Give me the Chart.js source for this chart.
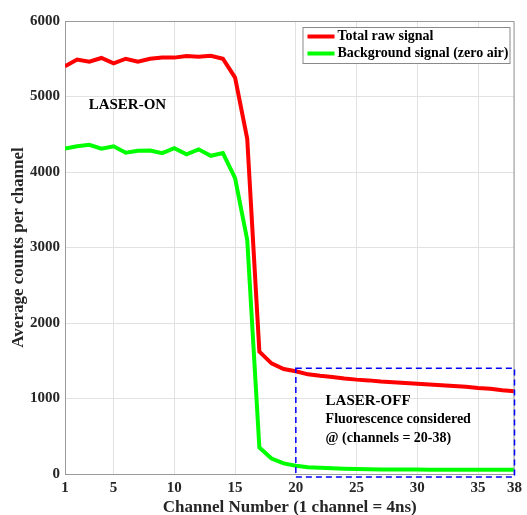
<!DOCTYPE html>
<html>
<head>
<meta charset="utf-8">
<script src="https://cdn.jsdelivr.net/npm/chart.js@4.4.1/dist/chart.umd.min.js"></script>
<style>
  html, body { margin: 0; padding: 0; background: #fff; }
  #wrap { width: 527px; height: 515px; }
</style>
</head>
<body>
<div id="wrap"><canvas id="chart" width="527" height="515"></canvas></div>
<script>
// ---------- DATA ----------
const channels = [1, 2, 3, 4, 5, 6, 7, 8, 9, 10, 11, 12, 13, 14, 15, 16, 17, 18, 19,
  20, 21, 22, 23, 24, 25, 26, 27, 28, 29, 30, 31, 32, 33, 34, 35, 36, 37, 38];
const totalRaw = [5400, 5490, 5460, 5510, 5440, 5500, 5460, 5500, 5515, 5515, 5535, 5525, 5540, 5500,
  5250, 4440, 1620, 1465, 1390, 1360, 1320, 1300, 1285, 1265, 1250, 1240, 1225, 1215, 1205,
  1195, 1185, 1175, 1165, 1155, 1140, 1130, 1110, 1095];
const background = [4310, 4340, 4360, 4310, 4340, 4255, 4280, 4285, 4250, 4315, 4235, 4300, 4215, 4250,
  3920, 3100, 350, 205, 140, 110, 90, 82, 76, 70, 66, 63, 61, 60, 59,
  58, 57, 57, 56, 56, 55, 55, 55, 55];
const xTicks = [1, 5, 10, 15, 20, 25, 30, 35, 38];
const yTicks = [0, 1000, 2000, 3000, 4000, 5000, 6000];
const seriesNames = ["Total raw signal", "Background signal (zero air)"];

// fluorescence window (channels 20-38)
const boxX = [20, 38];
const boxY = [-40, 1400];

const notes = [
  { text: "LASER-ON", x: 2.95, y: 4890, size: 15 },
  { text: "LASER-OFF", x: 22.45, y: 967, size: 15 },
  { text: "Fluorescence considered", x: 22.45, y: 728, size: 14 },
  { text: "@ (channels = 20-38)", x: 22.45, y: 477, size: 14 },
];

const FONT = "'Liberation Serif', 'Times New Roman', serif";

// ---------- HELPERS ----------
function points(ys) {
  return channels.map((c, i) => ({ x: c, y: ys[i] }));
}

const extras = {
  id: "extras",
  afterDatasetsDraw(chart) {
    const { ctx, chartArea: a, scales } = chart;
    const x = scales.x, y = scales.y;

    // box around plot
    ctx.save();
    ctx.strokeStyle = "#9a9a9a";
    ctx.lineWidth = 1;
    ctx.beginPath();
    ctx.moveTo(a.left, a.top + 0.5);
    ctx.lineTo(a.right - 0.5, a.top + 0.5);
    ctx.lineTo(a.right - 0.5, a.bottom);
    ctx.stroke();

    // dashed window
    ctx.strokeStyle = "#0000ff";
    ctx.lineWidth = 1.5;
    ctx.setLineDash([6, 4]);
    const x0 = x.getPixelForValue(boxX[0]), x1 = x.getPixelForValue(boxX[1]);
    const y0 = y.getPixelForValue(boxY[0]), y1 = y.getPixelForValue(boxY[1]);
    ctx.strokeRect(x0, y1, x1 - x0, y0 - y1);
    ctx.setLineDash([]);

    // notes
    ctx.fillStyle = "#000";
    ctx.textAlign = "left";
    ctx.textBaseline = "middle";
    notes.forEach((n) => {
      ctx.font = `bold ${n.size}px ${FONT}`;
      ctx.fillText(n.text, x.getPixelForValue(n.x), y.getPixelForValue(n.y));
    });

    // legend
    const lx = a.right - 212, ly = a.top + 6, lw = 207, lh = 36;
    ctx.fillStyle = "#fff";
    ctx.fillRect(lx, ly, lw, lh);
    ctx.strokeStyle = "#8a8a8a";
    ctx.lineWidth = 1;
    ctx.strokeRect(lx + 0.5, ly + 0.5, lw, lh);
    chart.data.datasets.forEach((ds, i) => {
      const yy = ly + 9.5 + i * 17;
      ctx.strokeStyle = ds.borderColor;
      ctx.lineWidth = 4;
      ctx.beginPath();
      ctx.moveTo(lx + 5, yy);
      ctx.lineTo(lx + 32, yy);
      ctx.stroke();
      ctx.fillStyle = "#000";
      ctx.font = `bold 14px ${FONT}`;
      ctx.fillText(ds.label, lx + 35, yy);
    });
    ctx.restore();
  },
};

new Chart(document.getElementById("chart"), {
  type: "line",
  data: {
    datasets: [
      {
        label: seriesNames[0],
        data: points(totalRaw),
        borderColor: "#ff0000",
        borderWidth: 4,
        pointRadius: 0,
        tension: 0,
      },
      {
        label: seriesNames[1],
        data: points(background),
        borderColor: "#00ff00",
        borderWidth: 4,
        pointRadius: 0,
        tension: 0,
      },
    ],
  },
  options: {
    responsive: false,
    animation: false,
    layout: { padding: { top: 21, right: 9, left: 0, bottom: 0 } },
    plugins: { legend: { display: false }, tooltip: { enabled: false } },
    scales: {
      x: {
        type: "linear",
        min: 1,
        max: 38,
        afterBuildTicks: (s) => { s.ticks = xTicks.map((v) => ({ value: v })); },
        afterFit: (s) => { s.height = 41; },
        grid: { color: "#e2e2e2", drawTicks: false },
        border: { color: "#9a9a9a" },
        ticks: {
          autoSkip: false,
          maxRotation: 0,
          padding: 5,
          color: "#262626",
          font: { family: FONT, size: 15, weight: "bold" },
          callback: (v) => String(v),
        },
        title: {
          display: true,
          text: "Channel Number (1 channel = 4ns)",
          color: "#262626",
          padding: { top: 0, bottom: -2.5 },
          font: { family: FONT, size: 17, weight: "bold" },
        },
      },
      y: {
        min: 0,
        max: 6000,
        afterBuildTicks: (s) => { s.ticks = yTicks.map((v) => ({ value: v })); },
        afterFit: (s) => { s.width = 65; },
        grid: { color: "#e2e2e2", drawTicks: false },
        border: { color: "#9a9a9a" },
        ticks: {
          padding: 5,
          color: "#262626",
          font: { family: FONT, size: 15, weight: "bold" },
          callback: (v) => String(v),
        },
        title: {
          display: true,
          text: "Average counts per channel",
          color: "#262626",
          padding: { top: 8, bottom: 0 },
          font: { family: FONT, size: 17, weight: "bold" },
        },
      },
    },
  },
  plugins: [extras],
});
</script>
</body>
</html>
